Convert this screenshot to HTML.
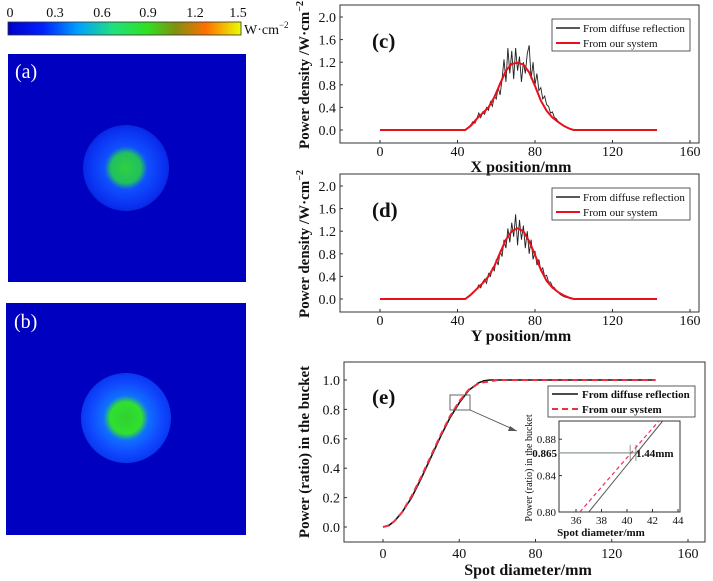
<!DOCTYPE html>
<html><head><meta charset="utf-8"><style>
body{margin:0;background:#fff;}
svg{display:block;font-family:"Liberation Serif",serif;}
</style></head><body>
<svg id="fig" width="713" height="581" viewBox="0 0 713 581" xmlns="http://www.w3.org/2000/svg">
<defs>
<linearGradient id="cbar" x1="0" x2="1" y1="0" y2="0">
<stop offset="0" stop-color="#0000c8"/><stop offset="0.15" stop-color="#0020ff"/><stop offset="0.3" stop-color="#00a0ff"/>
<stop offset="0.45" stop-color="#20e080"/><stop offset="0.6" stop-color="#30e020"/><stop offset="0.72" stop-color="#809010"/>
<stop offset="0.85" stop-color="#ff7000"/><stop offset="1" stop-color="#e8ff00"/>
</linearGradient>
<radialGradient id="spotA"><stop offset="0" stop-color="#30d040"/><stop offset="0.35" stop-color="#20c060"/><stop offset="0.5" stop-color="#1050ff"/><stop offset="0.9" stop-color="#0a30f0"/><stop offset="1" stop-color="#0828e0"/></radialGradient>
<radialGradient id="spotB"><stop offset="0" stop-color="#30d030"/><stop offset="0.35" stop-color="#30e030"/><stop offset="0.5" stop-color="#1070ff"/><stop offset="0.8" stop-color="#1048ff"/><stop offset="1" stop-color="#0838f0"/></radialGradient>
</defs>
<g>
<rect x="8" y="22" width="233" height="13" fill="url(#cbar)" stroke="#333" stroke-width="0.8"/>
<g font-size="14" fill="#111" text-anchor="middle">
<text x="10" y="17">0</text><text x="55" y="17">0.3</text><text x="102" y="17">0.6</text><text x="148" y="17">0.9</text><text x="195" y="17">1.2</text><text x="238" y="17">1.5</text>
</g>
<text x="244" y="34" font-size="14" fill="#111">W·cm<tspan dy="-6" font-size="9">−2</tspan></text>
</g>
<g>
<rect x="8" y="54" width="238" height="228" fill="#0000c0"/>
<circle cx="126" cy="168" r="43" fill="url(#spotA)"/>
<text x="15" y="78" font-size="20" fill="#fff">(a)</text>
</g>
<g>
<rect x="6" y="303" width="240" height="232" fill="#0000c0"/>
<circle cx="126" cy="418" r="45" fill="url(#spotB)"/>
<text x="14" y="328" font-size="20" fill="#fff">(b)</text>
</g>
<g id="plots"></g>
</svg>
<script>
// Panel (c) X profile
const profX = [44,45,46,47,48,49,50,51,52,53,54,55,56,57,58,59,60,61,62,63,64,65,66,67,68,69,70,71,72,73,74,75,76,77,78,79,80,81,82,83,84,85,86,87,88,89,90,91,92,93,94,95,96,97,98,99,100];
const diffuseC = [0.0,0.02,0.05,0.1,0.15,0.12,0.2,0.3,0.22,0.32,0.28,0.4,0.35,0.5,0.42,0.6,0.55,0.75,0.62,0.9,1.25,0.85,1.45,1.0,1.4,0.9,1.45,1.05,1.3,0.85,1.2,1.0,1.35,1.5,0.9,1.2,0.8,1.0,0.7,0.75,0.55,0.6,0.45,0.42,0.3,0.32,0.22,0.2,0.15,0.12,0.1,0.07,0.05,0.03,0.02,0.0,0.0];
const systemX = [0,44,47,50,53,56,59,62,65,68,71,74,77,80,83,86,89,92,95,98,100,143];
const systemC = [0,0,0.08,0.2,0.3,0.4,0.58,0.82,1.05,1.17,1.19,1.16,1.02,0.78,0.52,0.34,0.22,0.14,0.07,0.02,0,0];
// Panel (d) Y profile
const diffuseD = [0.0,0.02,0.04,0.08,0.12,0.15,0.18,0.25,0.2,0.3,0.35,0.28,0.45,0.4,0.55,0.5,0.7,0.6,0.85,0.75,1.05,0.9,1.25,1.0,1.35,1.1,1.5,0.95,1.4,1.05,1.3,0.9,1.2,0.8,1.05,0.7,0.85,0.6,0.7,0.5,0.55,0.4,0.42,0.3,0.3,0.22,0.2,0.15,0.12,0.08,0.06,0.04,0.03,0.02,0.01,0.0,0.0];
const systemD = [0,0,0.08,0.18,0.28,0.4,0.58,0.82,1.05,1.2,1.25,1.2,1.02,0.78,0.52,0.32,0.2,0.12,0.06,0.02,0,0];
// Panel (e) power in the bucket
const pibX = [0,3,6,10,15,20,25,30,35,40,45,50,53,56,60,143];
const pibDiffuse = [0,0.01,0.04,0.1,0.2,0.33,0.47,0.61,0.74,0.845,0.93,0.98,0.995,1,1,1];
const pibSystem = [0,0.01,0.04,0.1,0.21,0.34,0.48,0.62,0.75,0.855,0.935,0.975,0.985,0.99,1,1];
const insetX = [[37,42.8],[36.3,42.5]];
const insetY = [0.80,0.90];
const xTicks = [0,40,80,120,160];
const yTicksC = [0,0.4,0.8,1.2,1.6,2.0];
const yTicksE = [0,0.2,0.4,0.6,0.8,1.0];
const insetXTicks = [36,38,40,42,44];
const insetYTicks = [0.80,0.84,0.88];

const NS="http://www.w3.org/2000/svg";
const root=document.getElementById('plots');
function mk(tag,attrs,parent,text){const e=document.createElementNS(NS,tag);for(const k in attrs)e.setAttribute(k,attrs[k]);if(text!==undefined)e.textContent=text;(parent||root).appendChild(e);return e;}
function lin(d0,d1,r0,r1){return v=>r0+(v-d0)*(r1-r0)/(d1-d0);}
function path(xs,ys,sx,sy){return xs.map((x,i)=>(i?'L':'M')+sx(x).toFixed(2)+' '+sy(ys[i]).toFixed(2)).join(' ');}

function profilePanel(name,top,label,xlabel,diff,sys){
  const g=mk('g',{});
  
  
  const L=340,R=699,T=top,B=top+138;
  const sx=lin(0,160,380,690), sy=lin(0,2,top+125,top+12);
  mk('rect',{x:L,y:T,width:R-L,height:B-T,fill:'none',stroke:'#333','stroke-width':1},g);
  xTicks.forEach(v=>{mk('line',{x1:sx(v),x2:sx(v),y1:B,y2:B-3,stroke:'#333'},g);
    const t=mk('text',{x:sx(v),y:B+13,'font-size':14,'text-anchor':'middle',fill:'#111'},g,String(v));
    });
  yTicksC.forEach(v=>{mk('line',{x1:L,x2:L+3,y1:sy(v),y2:sy(v),stroke:'#333'},g);
    const t=mk('text',{x:L-4,y:sy(v)+5,'font-size':14,'text-anchor':'end',fill:'#111'},g,v.toFixed(1));
    });
  const d=mk('path',{d:path(profX,diff,sx,sy),fill:'none',stroke:'#222','stroke-width':0.9},g);
  
  const s=mk('path',{d:path(systemX,sys,sx,sy),fill:'none',stroke:'#e8101a','stroke-width':2},g);
  
  const xt=mk('text',{x:521,y:B+29,'font-size':16,'font-weight':'bold','text-anchor':'middle',fill:'#111'},g,xlabel);
  
  const yt=mk('text',{x:0,y:0,'font-size':15,'font-weight':'bold','text-anchor':'middle',fill:'#111',transform:`translate(309,${top+70}) rotate(-90)`},g);
  yt.textContent='Power density /W·cm';
  mk('tspan',{dy:-6,'font-size':10},yt,'−2');
  
  const pl=mk('text',{x:372,y:top+43,'font-size':21,'font-weight':'bold',fill:'#111'},g,label);
  
  const lg=mk('g',{},g);
  
  mk('rect',{x:552,y:top+14,width:138,height:32,fill:'#fff',stroke:'#333','stroke-width':0.8},lg);
  mk('line',{x1:556,x2:580,y1:top+23,y2:top+23,stroke:'#222','stroke-width':1.5},lg);
  mk('text',{x:583,y:top+27,'font-size':11,fill:'#111'},lg,'From diffuse reflection');
  mk('line',{x1:556,x2:580,y1:top+38,y2:top+38,stroke:'#e8101a','stroke-width':2},lg);
  mk('text',{x:583,y:top+42,'font-size':11,fill:'#111'},lg,'From our system');
}
profilePanel('panel-c',5,'(c)','X position/mm',diffuseC,systemC);
profilePanel('panel-d',174,'(d)','Y position/mm',diffuseD,systemD);

// Panel e
(function(){
  const g=mk('g',{});
  
  const L=344,R=705,T=362,B=542;
  const sx=lin(0,160,383,688), sy=lin(0,1,527,380);
  mk('rect',{x:L,y:T,width:R-L,height:B-T,fill:'none',stroke:'#333'},g);
  xTicks.forEach(v=>{mk('line',{x1:sx(v),x2:sx(v),y1:B,y2:B-3,stroke:'#333'},g);
    const t=mk('text',{x:sx(v),y:B+16,'font-size':14,'text-anchor':'middle',fill:'#111'},g,String(v));
    });
  yTicksE.forEach(v=>{mk('line',{x1:L,x2:L+3,y1:sy(v),y2:sy(v),stroke:'#333'},g);
    const t=mk('text',{x:L-4,y:sy(v)+5,'font-size':14,'text-anchor':'end',fill:'#111'},g,v.toFixed(1));
    });
  const d=mk('path',{d:path(pibX,pibDiffuse,sx,sy),fill:'none',stroke:'#111','stroke-width':1.6},g);
  
  const s=mk('path',{d:path(pibX,pibSystem,sx,sy),fill:'none',stroke:'#f03040','stroke-width':2,'stroke-dasharray':'6 4'},g);
  
  const xt=mk('text',{x:528,y:575,'font-size':16,'font-weight':'bold','text-anchor':'middle',fill:'#111'},g,'Spot diameter/mm');
  
  const yt=mk('text',{x:0,y:0,'font-size':15,'font-weight':'bold','text-anchor':'middle',fill:'#111',transform:'translate(309,452) rotate(-90)'},g,'Power (ratio) in the bucket');
  
  const pl=mk('text',{x:372,y:404,'font-size':21,'font-weight':'bold',fill:'#111'},g,'(e)');
  
  mk('rect',{x:450,y:395,width:20,height:15,fill:'none',stroke:'#555','stroke-width':0.9},g);
  mk('line',{x1:470,y1:410,x2:517,y2:431,stroke:'#555','stroke-width':0.9},g);
  mk('path',{d:'M517 431 L510 426 L508 431 Z',fill:'#555'},g);
  const lg=mk('g',{},g);
  
  mk('rect',{x:548,y:386,width:147,height:31,fill:'#fff',stroke:'#333','stroke-width':0.8},lg);
  mk('line',{x1:552,x2:578,y1:394,y2:394,stroke:'#111','stroke-width':1.6},lg);
  mk('text',{x:582,y:398,'font-size':11,'font-weight':'bold',fill:'#111'},lg,'From diffuse reflection');
  mk('line',{x1:552,x2:578,y1:409,y2:409,stroke:'#f03040','stroke-width':2,'stroke-dasharray':'6 4'},lg);
  mk('text',{x:582,y:413,'font-size':11,'font-weight':'bold',fill:'#111'},lg,'From our system');
  const ig=mk('g',{},g);
  
  const iL=559,iR=680,iT=421,iB=512;
  const ix=lin(36,44,576,678), iy=lin(0.80,0.90,iB,iT);
  mk('rect',{x:iL,y:iT,width:iR-iL,height:iB-iT,fill:'#fff',stroke:'#333'},ig);
  insetXTicks.forEach(v=>{mk('line',{x1:ix(v),x2:ix(v),y1:iB,y2:iB-3,stroke:'#333'},ig);
    const t=mk('text',{x:ix(v),y:iB+12,'font-size':11,'text-anchor':'middle',fill:'#111'},ig,String(v));
    });
  insetYTicks.forEach(v=>{mk('line',{x1:iL,x2:iL+3,y1:iy(v),y2:iy(v),stroke:'#333'},ig);
    const t=mk('text',{x:iL-3,y:iy(v)+4,'font-size':11,'text-anchor':'end',fill:'#111'},ig,v.toFixed(2));
    });
  const k=mk('text',{x:iL-2,y:iy(0.865)+4,'font-size':11,'font-weight':'bold','text-anchor':'end',fill:'#111'},ig,'0.865');
  
  mk('line',{x1:iL,x2:ix(41),y1:iy(0.865),y2:iy(0.865),stroke:'#8a9a90','stroke-width':1.2},ig);
  mk('line',{x1:ix(40.25),x2:ix(40.25),y1:iy(0.865)-8,y2:iy(0.865)+8,stroke:'#8a9a90','stroke-width':1},ig);
  mk('line',{x1:ix(40.7),x2:ix(40.7),y1:iy(0.865)-8,y2:iy(0.865)+8,stroke:'#8a9a90','stroke-width':1},ig);
  const l1=mk('line',{x1:ix(insetX[0][0]),x2:ix(insetX[0][1]),y1:iy(insetY[0]),y2:iy(insetY[1]),stroke:'#555','stroke-width':1},ig);
  
  const l2=mk('line',{x1:ix(insetX[1][0]),x2:ix(insetX[1][1]),y1:iy(insetY[0]),y2:iy(insetY[1]),stroke:'#f03060','stroke-width':1.2,'stroke-dasharray':'4 3'},ig);
  
  const m=mk('text',{x:636,y:iy(0.865)+4,'font-size':11,'font-weight':'bold','text-anchor':'start',fill:'#111'},ig,'1.44mm');
  
  const ixt=mk('text',{x:601,y:536,'font-size':11,'font-weight':'bold','text-anchor':'middle',fill:'#111'},ig,'Spot diameter/mm');
  
  const iyt=mk('text',{x:0,y:0,'font-size':10,'text-anchor':'middle',fill:'#111',transform:'translate(532,468) rotate(-90)'},ig,'Power (ratio) in the bucket');
  
})();
</script>
</body></html>
